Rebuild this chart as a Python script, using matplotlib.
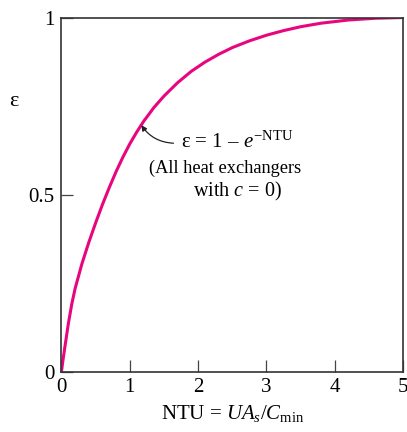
import matplotlib
matplotlib.use("Agg")
import matplotlib.pyplot as plt

plt.rcParams['font.family'] = ['Liberation Serif', 'DejaVu Serif']
plt.rcParams['mathtext.fontset'] = 'custom'
plt.rcParams['mathtext.rm'] = 'Liberation Serif'
plt.rcParams['mathtext.it'] = 'Liberation Serif:italic'

# values
ntu = [0, 0.02, 0.05, 0.1, 0.15, 0.2, 0.3, 0.4, 0.5, 0.6, 0.7, 0.8, 0.9, 1.0, 1.1, 1.2,
       1.35, 1.5, 1.7, 1.9, 2.1, 2.3, 2.5, 2.75, 3.0, 3.25, 3.5, 3.8, 4.2, 4.6, 5.0]
eff = [0, 0.03, 0.07, 0.135, 0.19, 0.235, 0.305, 0.365, 0.42, 0.472, 0.52, 0.565, 0.606,
       0.643, 0.676, 0.706, 0.745, 0.778, 0.816, 0.848, 0.874, 0.896, 0.915, 0.934,
       0.950, 0.963, 0.974, 0.984, 0.993, 0.998, 1.0]

xticks = [0, 1, 2, 3, 4, 5]
yticks = [0, 0.5, 1]
yticklabels = ['0', '0.5', '1']

fig = plt.figure(figsize=(4.07, 4.32), dpi=100)
ax = fig.add_axes([0.1511, 0.140, 0.839, 0.8194])
ax.plot(ntu, eff, color='#E8067F', lw=2.2, solid_capstyle='butt', solid_joinstyle='round')
ax.set_xlim(0, 5)
ax.set_ylim(0, 1)
ax.set_xticks(xticks)
ax.set_xticklabels([str(t) for t in xticks])
ax.set_yticks(yticks)
ax.set_yticklabels(yticklabels)
ax.tick_params(direction='in', length=8.5, width=0.9, color='#444444', labelsize=15,
               pad=5, top=False, right=False)
for s in ax.spines.values():
    s.set_color('#333333')
    s.set_linewidth(1.2)

ax.set_xlabel(r'NTU = $UA_s/C_{\mathrm{min}}$', fontsize=15, labelpad=4)
ax.text(-0.14, 0.762, 'ε', transform=ax.transAxes, fontsize=16, ha='center', va='center')

ax.annotate('', xy=(1.17, 0.696), xytext=(1.64, 0.645),
            arrowprops=dict(arrowstyle='-|>', color='#222222', lw=0.9,
                            mutation_scale=8, connectionstyle='arc3,rad=-0.25',
                            shrinkA=0, shrinkB=0))
ax.text(2.57, 0.648, r'ε = 1 – $e^{-\mathrm{NTU}}$', fontsize=15, ha='center', va='center')
ax.text(2.39, 0.573, '(All heat exchangers', fontsize=13.2, ha='center', va='center')
ax.text(2.58, 0.508, r'with $c$ = 0)', fontsize=14.5, ha='center', va='center')

fig.savefig('out.png', dpi=100)
